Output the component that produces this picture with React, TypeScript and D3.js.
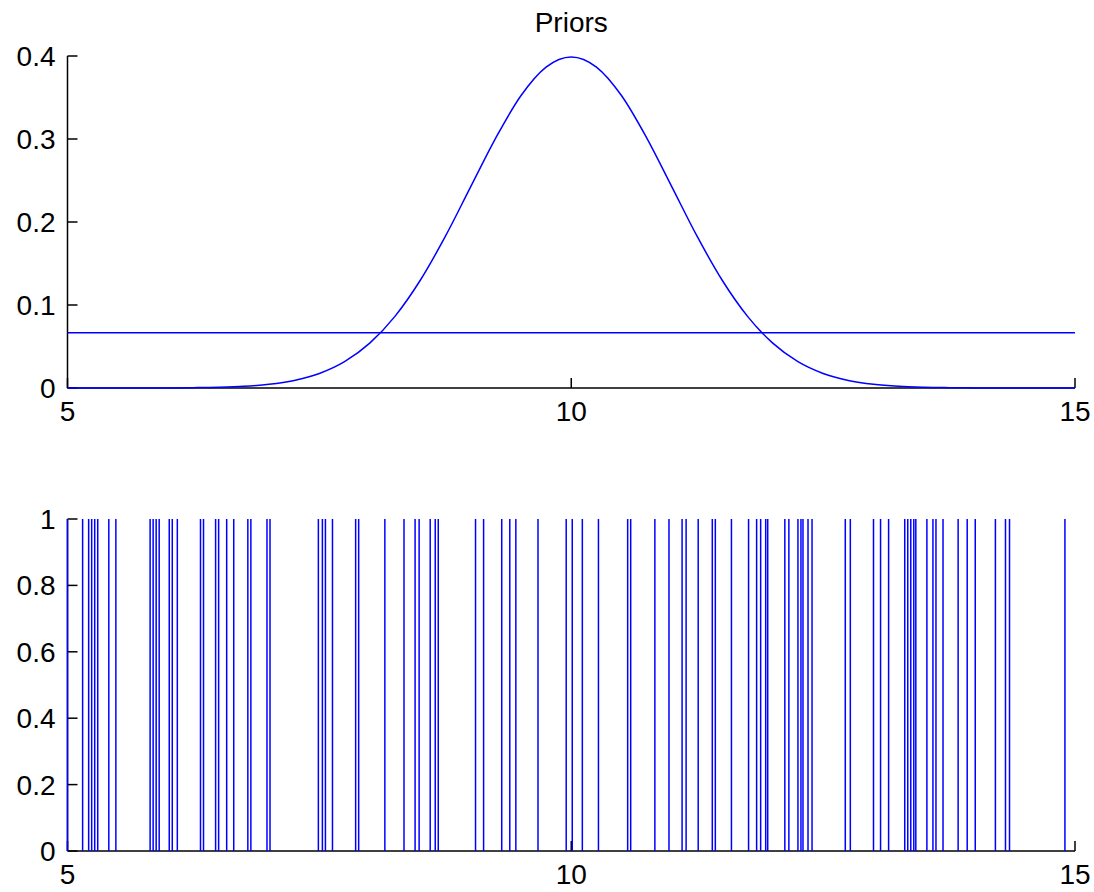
import React from "react";
import * as d3 from "d3";

// Top panel: Gaussian prior and uniform prior
const gaussX = [5, 5.25, 5.5, 5.75, 6, 6.25, 6.5, 6.75, 7, 7.25, 7.5, 7.75, 8, 8.25, 8.5, 8.75, 9, 9.25, 9.5, 9.75, 10, 10.25, 10.5, 10.75, 11, 11.25, 11.5, 11.75, 12, 12.25, 12.5, 12.75, 13, 13.25, 13.5, 13.75, 14, 14.25, 14.5, 14.75, 15];
const gaussY = [0, 0, 0, 0, 0.0001, 0.0004, 0.0009, 0.002, 0.0044, 0.0091, 0.0175, 0.0317, 0.054, 0.0863, 0.1295, 0.1826, 0.242, 0.3011, 0.3521, 0.3867, 0.3989, 0.3867, 0.3521, 0.3011, 0.242, 0.1826, 0.1295, 0.0863, 0.054, 0.0317, 0.0175, 0.0091, 0.0044, 0.002, 0.0009, 0.0004, 0.0001, 0, 0, 0, 0];
const uniformX = [5, 15];
const uniformY = [0.0667, 0.0667];
const topYTicks = [0, 0.1, 0.2, 0.3, 0.4];
const topYLabels = ["0", "0.1", "0.2", "0.3", "0.4"];
const xTicks = [5, 10, 15];
const xLabels = ["5", "10", "15"];
const title = "Priors";

// Bottom panel: spike positions (value 1)
const spikes = [
  5.0, 5.15, 5.21, 5.24, 5.27, 5.3, 5.41, 5.48,
  5.82, 5.85, 5.88, 5.91, 6.01, 6.04, 6.09, 6.32, 6.35, 6.47, 6.5, 6.58,
  6.65, 6.79, 6.82, 6.98, 7.01, 7.49, 7.53, 7.56, 7.63, 7.86, 7.89, 8.15,
  8.34, 8.45, 8.49, 8.6, 8.65, 8.68, 9.05, 9.13, 9.31, 9.39, 9.45, 9.67, 9.95,
  10.01, 10.11, 10.27, 10.56, 10.59, 10.83, 10.97, 11.1, 11.14, 11.26, 11.4, 11.43, 11.59,
  11.76, 11.84, 11.88, 11.93, 11.95, 12.12, 12.16, 12.25, 12.28, 12.3, 12.35, 12.39, 12.72, 12.77, 13.0, 13.07, 13.15,
  13.31, 13.34, 13.37, 13.4, 13.42, 13.53, 13.59, 13.62, 13.69, 13.84, 13.93, 14.01, 14.21, 14.31, 14.35, 14.9,
];
const botYTicks = [0, 0.2, 0.4, 0.6, 0.8, 1];
const botYLabels = ["0", "0.2", "0.4", "0.6", "0.8", "1"];

const W = 1094;
const H = 892;
const FONT = "'Liberation Sans', Arial, sans-serif";
const FS = 28;
const BLUE = "#0000ff";

function Axes({ x, y, yTicks, yLabels }: any) {
  const [x0, x1] = x.range();
  const [y0] = y.range();
  const tl = 10;
  return (
    <g>
      <line x1={x0} y1={y0} x2={x1} y2={y0} stroke="#000" strokeWidth={1.5} />
      <line x1={x0} y1={y0} x2={x0} y2={y.range()[1]} stroke="#000" strokeWidth={1.5} />
      {yTicks.map((t: number, i: number) => (
        <g key={"y" + i}>
          <line x1={x0} x2={x0 + tl} y1={y(t)} y2={y(t)} stroke="#000" strokeWidth={1.5} />
          <text x={x0 - 12} y={y(t)} dy="0.36em" textAnchor="end" fontFamily={FONT} fontSize={FS} fill="#000">
            {yLabels[i]}
          </text>
        </g>
      ))}
      {xTicks.map((t, i) => (
        <g key={"x" + i}>
          <line x1={x(t)} x2={x(t)} y1={y0} y2={y0 - tl} stroke="#000" strokeWidth={1.5} />
          <text x={x(t)} y={y0 + 33} textAnchor="middle" fontFamily={FONT} fontSize={FS} fill="#000">
            {xLabels[i]}
          </text>
        </g>
      ))}
    </g>
  );
}

export default function App() {
  const xTop = d3.scaleLinear().domain([5, 15]).range([67.5, 1075]);
  const yTop = d3.scaleLinear().domain([0, 0.4]).range([388, 56]);
  const xBot = d3.scaleLinear().domain([5, 15]).range([67.5, 1075]);
  const yBot = d3.scaleLinear().domain([0, 1]).range([851, 519]);

  const line = d3
    .line<number>()
    .x((_, i) => xTop(gaussX[i]))
    .y((d) => yTop(d))
    .curve(d3.curveMonotoneX);
  const uline = d3
    .line<number>()
    .x((_, i) => xTop(uniformX[i]))
    .y((d) => yTop(d));

  return (
    <svg width={W} height={H} style={{ position: "absolute", left: 0, top: 0, background: "#fff" }}>
      <rect width={W} height={H} fill="#fff" />
      <text x={(xTop(5) + xTop(15)) / 2} y={32} textAnchor="middle" fontFamily={FONT} fontSize={FS} fill="#000">
        {title}
      </text>
      <Axes x={xTop} y={yTop} yTicks={topYTicks} yLabels={topYLabels} />
      <path d={uline(uniformY) || ""} fill="none" stroke={BLUE} strokeWidth={1.5} />
      <path d={line(gaussY) || ""} fill="none" stroke={BLUE} strokeWidth={1.5} />

      <Axes x={xBot} y={yBot} yTicks={botYTicks} yLabels={botYLabels} />
      {spikes.map((s, i) => (
        <line key={i} x1={xBot(s)} x2={xBot(s)} y1={yBot(0)} y2={yBot(1)} stroke={BLUE} strokeWidth={1.5} />
      ))}
    </svg>
  );
}
